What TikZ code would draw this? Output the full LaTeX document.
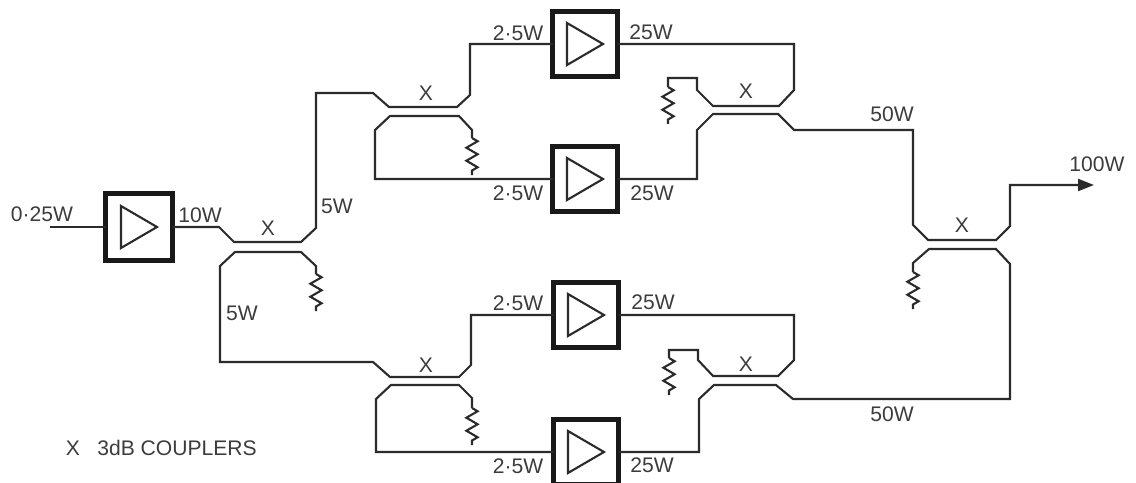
\documentclass[tikz,border=0pt]{standalone}
\usepackage{fontspec}
\setmainfont{Liberation Sans}
\usetikzlibrary{calc,arrows.meta,decorations.pathmorphing}
\definecolor{inkline}{HTML}{2B2B2B}
\definecolor{inktext}{HTML}{3C3C3C}

\begin{document}
\begin{tikzpicture}[x=0.02cm, y=-0.02cm, >={Stealth[length=0.32cm,width=0.24cm,inset=0pt]},
    wire/.style={line width=1.2pt, draw=inkline, line join=miter},
    ampbox/.style={draw=black!90, line width=2.7pt, inner sep=0pt, outer sep=0pt},
    ampmark/.style={line width=1.2pt, draw=inkline, line join=miter},
    zigload/.style={wire, decorate, decoration={zigzag, segment length=7.4pt, amplitude=3.2pt}},
    lbl/.style={text=inktext, font=\fontsize{12}{14}\selectfont, inner sep=0pt}]
    % --- 1. Frame ---
    \useasboundingbox (0,0) rectangle (1136,483);

    % --- 2. Amplifiers ---
    \foreach \name/\x/\y/\side in {Ain/139/227/1.34cm, Aa/585/44/1.3cm, Ab/585/179/1.3cm, Ac/586/315/1.3cm, Ad/586/452/1.3cm} {
        \node[ampbox, minimum size=\side] (\name) at (\x,\y) {};
        \draw[ampmark] ($(\name)+(-18,-21)$) -- ($(\name)+(18,0)$) -- ($(\name)+(-18,21)$) -- cycle;
    }

    % --- 3. Load ends ---
    \coordinate (Rin) at (316,274);
    \coordinate (Ra) at (472,138);
    \coordinate (Rb) at (668,87);
    \coordinate (Rc) at (472,408);
    \coordinate (Rd) at (669,358);
    \coordinate (Rout) at (913,272);
    \coordinate (In) at (50,227);
    \coordinate (Out) at (1094,185);

    % --- 4. Input coupler ---
    \draw[wire] (In) -- (Ain.west);
    \draw[wire] (Ain.east) -- (219,227) -- (234,242) -- (301,242) -- (316,228) -- (316,93)
        -- (373,93) -- (389,107) -- (457,107) -- (470,95) -- (470,44) -- (Aa.west);
    \draw[wire] (Rin) -- (316,266) -- (301,252) -- (235,252) -- (220,266) -- (220,362)
        -- (373,362) -- (390,377) -- (459,377) -- (471,365) -- (471,315) -- (Ac.west);

    % --- 5. Upper branch ---
    \draw[wire] (Ra) -- (472,130) -- (459,116) -- (390,116) -- (375,130) -- (375,179) -- (Ab.west);
    \draw[wire] (Aa.east) -- (794,44) -- (794,90) -- (779,106) -- (713,106) -- (697,90) -- (697,78) -- (668,78) -- (Rb);
    \draw[wire, ->] (Ab.east) -- (697,179) -- (697,130) -- (713,114) -- (778,114) -- (794,130)
        -- (913,130) -- (913,225) -- (928,240) -- (996,240) -- (1010,226) -- (1010,185) -- (Out);

    % --- 6. Lower branch ---
    \draw[wire] (Rc) -- (472,398) -- (459,385) -- (391,385) -- (376,399) -- (376,452) -- (Ad.west);
    \draw[wire] (Ac.east) -- (794,315) -- (794,360) -- (778,376) -- (713,376) -- (698,360) -- (698,350) -- (669,350) -- (Rd);
    \draw[wire] (Ad.east) -- (699,452) -- (699,399) -- (714,385) -- (776,385) -- (793,399)
        -- (1010,399) -- (1010,264) -- (996,249) -- (929,249) -- (913,263) -- (Rout);

    % --- 7. Terminating loads ---
    \foreach \name in {Rin,Ra,Rb,Rc,Rd,Rout}
        \draw[zigload] (\name) -- ++(0,37);

    % --- 8. Labels ---
    \node[lbl] (pIn) at (42,214) {0·25W};
    \node[lbl] (pAmp) at (200,215) {10W};
    \node[lbl] (pUp) at (337,206) {5W};
    \node[lbl] (pDown) at (242,313) {5W};
    \node[lbl] (pAaIn) at (518,33) {2·5W};
    \node[lbl] (pAaOut) at (651,32) {25W};
    \node[lbl] (pAbIn) at (518,193) {2·5W};
    \node[lbl] (pAbOut) at (652,193) {25W};
    \node[lbl] (pAcIn) at (518,303) {2·5W};
    \node[lbl] (pAcOut) at (653,302) {25W};
    \node[lbl] (pAdIn) at (518,466) {2·5W};
    \node[lbl] (pAdOut) at (652,465) {25W};
    \node[lbl] (pSumA) at (892,114) {50W};
    \node[lbl] (pSumB) at (892,414) {50W};
    \node[lbl] (pOut) at (1097,164) {100W};
    \foreach \name/\x/\y in {Xin/268/228, Xa/426/93, Xb/746/91, Xc/426/365, Xd/746/364, Xout/962/225}
        \node[lbl] (\name) at (\x,\y) {X};
    \node[lbl] (keyX) at (73,448) {X};
    \node[lbl, anchor=west] (keyText) at (97,448) {3dB COUPLERS};
\end{tikzpicture}
\end{document}
